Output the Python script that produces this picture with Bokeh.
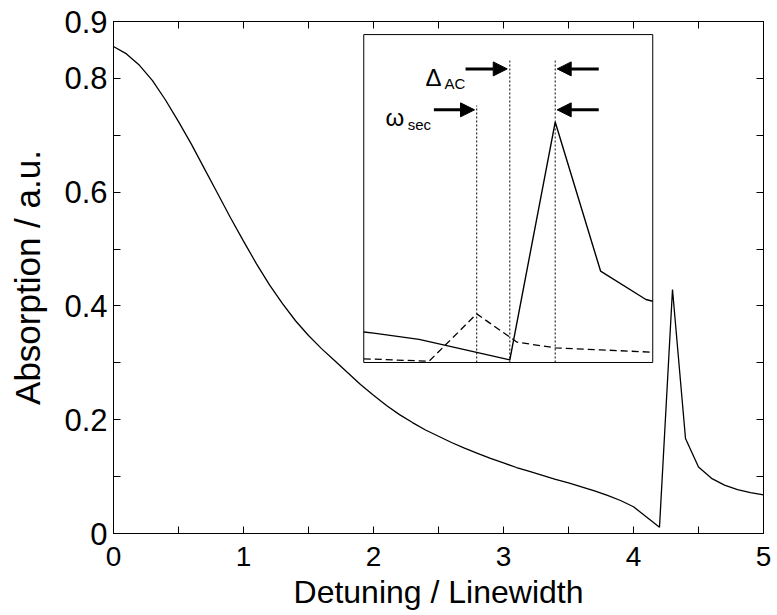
import numpy as np
from bokeh.plotting import figure
from bokeh.models import Range1d, LinearAxis, FixedTicker, Arrow, NormalHead
from bokeh.core.properties import value
from bokeh.embed import file_html
from bokeh.resources import INLINE

# ---------------- data ----------------
detuning = [0.0, 0.1, 0.2, 0.3, 0.4, 0.5, 0.6, 0.7, 0.8, 0.9,
            1.0, 1.1, 1.2, 1.3, 1.4, 1.5, 1.6, 1.7, 1.8, 1.9,
            2.0, 2.1, 2.2, 2.3, 2.4, 2.5, 2.6, 2.7, 2.8, 2.9,
            3.0, 3.1, 3.2, 3.3, 3.4, 3.5, 3.6, 3.7, 3.8, 3.9,
            4.0, 4.1, 4.2, 4.3, 4.4, 4.5, 4.6, 4.7, 4.8, 4.9, 5.0]
absorption = [0.856, 0.843, 0.823, 0.796, 0.762, 0.724, 0.684, 0.641, 0.598, 0.555,
              0.514, 0.474, 0.437, 0.404, 0.374, 0.348, 0.325, 0.304, 0.283, 0.262,
              0.243, 0.225, 0.209, 0.195, 0.182, 0.171, 0.160, 0.150, 0.141, 0.132,
              0.124, 0.116, 0.109, 0.102, 0.095, 0.089, 0.082, 0.075, 0.067, 0.058,
              0.047, 0.029, 0.011, 0.429, 0.167, 0.117, 0.097, 0.085, 0.077, 0.072, 0.068]

# second (dashed) trace, only shown in the inset
second_x = [3.878, 4.022, 4.127, 4.216, 4.3, 4.4, 4.515]
second_y = [0.0128, 0.0085, 0.0918, 0.042, 0.032, 0.0285, 0.0244]

x_ticks = [0, 0.5, 1, 1.5, 2, 2.5, 3, 3.5, 4, 4.5, 5]
x_tick_labels = ["0", "", "1", "", "2", "", "3", "", "4", "", "5"]
y_ticks = [0, 0.1, 0.2, 0.3, 0.4, 0.5, 0.6, 0.7, 0.8, 0.9]
y_tick_labels = ["0", "", "0.2", "", "0.4", "", "0.6", "", "0.8", "0.9"]

# inset: zoom window (data units) and marker lines
inset_x_window = (3.878, 4.515)
inset_y_window = (0.0063, 0.5827)
marker_x = [4.127, 4.2, 4.3]          # omega_sec, Delta_AC edges
marker_top = [0.458, 0.537, 0.537]

# ---------------- layout constants ----------------
FONT = "Liberation Sans"
X_RANGE = (0, 5)
Y_RANGE = (0, 0.9)
# inset box location in main-axes data units
INSET_BOX_X = (1.925, 4.148)
INSET_BOX_Y = (0.3006, 0.877)

p = figure(width=777, height=615, output_backend="svg", toolbar_location=None,
           x_range=Range1d(*X_RANGE), y_range=Range1d(*Y_RANGE),
           min_border_left=113, min_border_right=14, min_border_top=21,
           min_border_bottom=82)
p.background_fill_color = "white"
p.border_fill_color = "white"
p.outline_line_color = "black"
p.outline_line_width = 1
p.xgrid.visible = False
p.ygrid.visible = False


def style_axis(ax, ticks, labels, show_labels=True):
    ax.ticker = FixedTicker(ticks=ticks)
    ax.major_tick_in = 7
    ax.major_tick_out = 0
    ax.minor_tick_in = 0
    ax.minor_tick_out = 0
    ax.major_tick_line_color = "black"
    ax.axis_line_color = "black"
    if show_labels:
        ax.major_label_overrides = {t: l for t, l in zip(ticks, labels)}
        ax.major_label_text_font = FONT
        ax.major_label_text_color = "black"
    else:
        ax.major_label_overrides = {t: "" for t in ticks}
        ax.major_label_text_font_size = "0px"
        ax.major_label_standoff = 0


xa = p.xaxis[0]
style_axis(xa, x_ticks, x_tick_labels)
xa.major_label_text_font_size = "28px"
xa.major_label_standoff = 13
xa.axis_label = "Detuning / Linewidth"
xa.axis_label_text_font = FONT
xa.axis_label_text_font_size = "32px"
xa.axis_label_text_font_style = "normal"
xa.axis_label_text_color = "black"
xa.axis_label_standoff = 5

ya = p.yaxis[0]
style_axis(ya, y_ticks, y_tick_labels)
ya.major_label_text_font_size = "31px"
ya.major_label_standoff = 6
ya.axis_label = "Absorption / a.u."
ya.axis_label_text_font = FONT
ya.axis_label_text_font_size = "35px"
ya.axis_label_text_font_style = "normal"
ya.axis_label_text_color = "black"
ya.axis_label_standoff = 14

top_ax = LinearAxis()
style_axis(top_ax, x_ticks, x_tick_labels, show_labels=False)
p.add_layout(top_ax, "above")
right_ax = LinearAxis()
style_axis(right_ax, y_ticks, y_tick_labels, show_labels=False)
p.add_layout(right_ax, "right")

# main curve
p.line(detuning, absorption, line_color="black", line_width=1.3)

# ---------------- inset via extra ranges ----------------
sx = (inset_x_window[1] - inset_x_window[0]) / (INSET_BOX_X[1] - INSET_BOX_X[0])
sy = (inset_y_window[1] - inset_y_window[0]) / (INSET_BOX_Y[1] - INSET_BOX_Y[0])
p.extra_x_ranges = {"inx": Range1d(inset_x_window[0] - (INSET_BOX_X[0] - X_RANGE[0]) * sx,
                                   inset_x_window[1] + (X_RANGE[1] - INSET_BOX_X[1]) * sx)}
p.extra_y_ranges = {"iny": Range1d(inset_y_window[0] - (INSET_BOX_Y[0] - Y_RANGE[0]) * sy,
                                   inset_y_window[1] + (Y_RANGE[1] - INSET_BOX_Y[1]) * sy)}
R = dict(x_range_name="inx", y_range_name="iny")

p.quad(left=[inset_x_window[0]], right=[inset_x_window[1]],
       bottom=[inset_y_window[0]], top=[inset_y_window[1]],
       fill_color="white", line_color="black", line_width=1, **R)


def clip(xs, ys, lo, hi):
    xs = np.asarray(xs, float)
    ys = np.asarray(ys, float)
    m = (xs > lo) & (xs < hi)
    cx = np.concatenate([[lo], xs[m], [hi]])
    cy = np.concatenate([[np.interp(lo, xs, ys)], ys[m], [np.interp(hi, xs, ys)]])
    return cx, cy


ix, iy = clip(detuning, absorption, *inset_x_window)
p.line(ix, iy, line_color="black", line_width=1.4, **R)
p.line(second_x, second_y, line_color="black", line_width=1.3, line_dash="7 4", **R)

p.segment(x0=marker_x, y0=[inset_y_window[0]] * len(marker_x), x1=marker_x, y1=marker_top,
          line_color="black", line_width=1, line_dash="2 2", **R)

# arrows
arrows = [
    (4.1024, 0.5224, 4.1943, 0.5224),   # Delta_AC, left
    (4.396, 0.5224, 4.3044, 0.5224),    # Delta_AC, right
    (4.0326, 0.4504, 4.1222, 0.4504),   # omega_sec, left
    (4.396, 0.4504, 4.3044, 0.4504),    # omega_sec, right
]
for x0, y0, x1, y1 in arrows:
    p.add_layout(Arrow(x_start=x0, y_start=y0, x_end=x1, y_end=y1,
                       line_color="black", line_width=3,
                       end=NormalHead(size=14, fill_color="black", line_color="black",
                                      line_width=1),
                       **R))

p.text(x=[4.0143, 3.926], y=[0.5077, 0.437], text=["Δ", "ω"],
       text_font=value(FONT), text_font_size="24px", text_color="black",
       text_baseline="alphabetic", text_align="left", **R)
p.text(x=[4.056, 3.975], y=[0.496, 0.4245], text=["AC", "sec"],
       text_font=value(FONT), text_font_size="15px", text_color="black",
       text_baseline="alphabetic", text_align="left", **R)

open("out.html", "w").write(file_html(p, INLINE))
